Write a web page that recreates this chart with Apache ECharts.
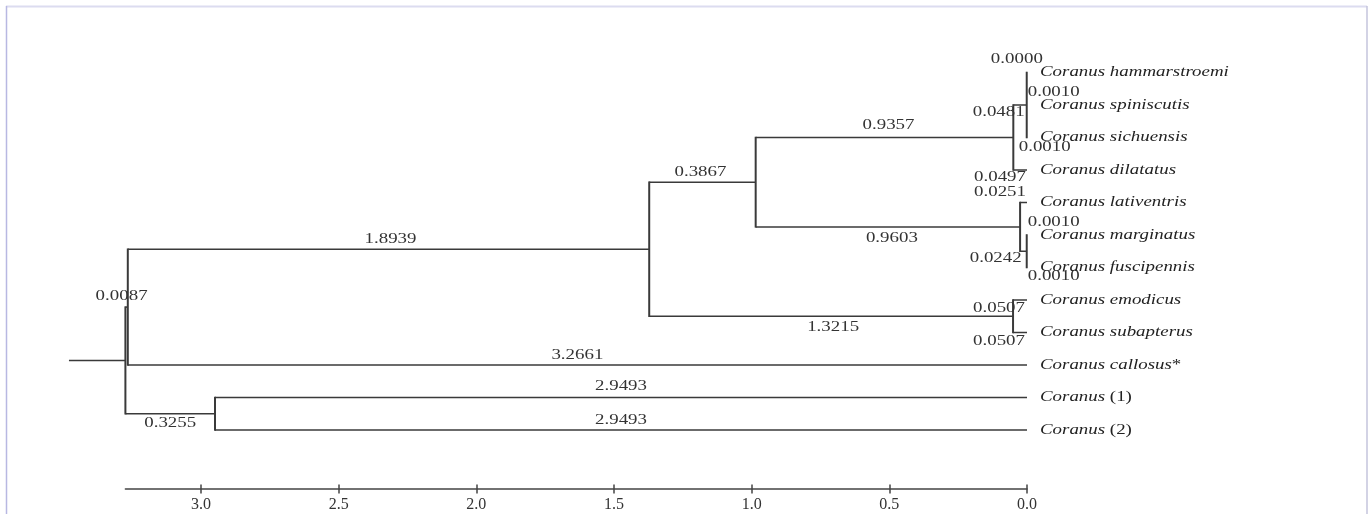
<!DOCTYPE html>
<html><head><meta charset="utf-8">
<script src="https://cdn.jsdelivr.net/npm/echarts@6/dist/echarts.min.js"></script>
<style>html,body{margin:0;padding:0;background:#fff}#c{width:1370px;height:514px}</style>
</head><body><div id="c"></div>
<script>
// ---------------- data ----------------
const taxa = ['Coranus hammarstroemi','Coranus spiniscutis','Coranus sichuensis','Coranus dilatatus',
  'Coranus lativentris','Coranus marginatus','Coranus fuscipennis','Coranus emodicus',
  'Coranus subapterus','Coranus callosus*','Coranus (1)','Coranus (2)'];
const nodeIds = ['G','F','I','H','D','E','C','A','B','R'];
const nodeHeights = [0.0010,0.0497,0.0010,0.0251,0.9855,0.0507,1.3722,3.2661,2.9493,3.2748];
const nodeChildren = [[0,1,2],['G',3],[5,6],[4,'I'],['F','H'],[7,8],['D','E'],['C',9],[10,11],['A','B']];
const branchLabelText = ['0.0000','0.0010','0.0010','0.0481','0.0497','0.0251','0.0010','0.0010','0.0242',
  '0.0507','0.0507','0.9357','0.9603','0.3867','1.3215','1.8939','3.2661','2.9493','2.9493','0.3255','0.0087'];
const branchLabelTarget = [0,1,2,'G',3,4,5,6,'I',7,8,'F','H','D','E','C',9,10,11,'B','A'];
const tickValues = [0, 0.5, 1.0, 1.5, 2.0, 2.5, 3.0];
const rootStem = 0.205;
const axisMax = 3.2748;

// ---------------- styling / placement ----------------
const labelPlace = [['mid',-10,-13],['start',1,-13],['start',-8,10],['end',-2,7],['end',-1,7],['end',-1,-10],
  ['start',1,-13],['start',1,9],['end',-5,7],['end',-2,8],['end',-2,9],['mid',4,-12],['mid',4,11],
  ['mid',-2,-10],['mid',2,11],['mid',2,-10],['mid',0,-10],['mid',0,-11],['mid',0,-10],['mid',0,10],['mid',-5,-11]];
const STRETCH = 1.35;
const LINE = '#3a3a3a';
const SERIF = '"Liberation Serif","Times New Roman",serif';

// ---------------- layout from data ----------------
const height = {}, row = {}, parentOf = {};
taxa.forEach((t,i)=>{ height[i]=0; row[i]=i; });
nodeIds.forEach((id,k)=>{ height[id]=nodeHeights[k]; nodeChildren[k].forEach(c=>parentOf[c]=id); });
nodeIds.forEach((id,k)=>{ const ch=nodeChildren[k]; row[id]=(row[ch[0]]+row[ch[ch.length-1]])/2; });

const hData = [], vData = [];
nodeIds.forEach((id,k)=>{
  const ch = nodeChildren[k];
  vData.push([height[id], row[ch[0]], row[ch[ch.length-1]]]);
  ch.forEach(c=>hData.push([height[id], height[c], row[c]]));
});
hData.push([height['R']+rootStem, height['R'], row['R']]);

const lblData = branchLabelText.map((t,i)=>{
  const c = branchLabelTarget[i], p = parentOf[c];
  return [height[p], height[c], row[c], i];
});
const tipData = taxa.map((t,i)=>[0, i, i]);

function richName(n){
  let m = n.match(/^(.*?) (\(.*\))$/);
  if (m) return '{i|'+m[1]+'} {n|'+m[2]+'}';
  m = n.match(/^(.*?)(\*)$/);
  if (m) return '{i|'+m[1]+'}{n|'+m[2]+'}';
  return '{i|'+n+'}';
}

const chart = echarts.init(document.getElementById('c'), null, {renderer:'canvas'});
const gridRect = {left:125.4, width:901.6, top:40, height:448.5};
chart.setOption({
  animation:false,
  backgroundColor:'#fff',
  grid:[Object.assign({},gridRect), Object.assign({},gridRect)],
  xAxis:[
    {type:'value', inverse:true, min:0, max:axisMax, interval:0.5, splitLine:{show:false},
      gridIndex:0, position:'bottom',
      axisLine:{show:true, onZero:false, lineStyle:{color:'#444', width:1.6}},
      axisTick:{show:true, inside:false, length:5, customValues:tickValues, lineStyle:{color:'#444', width:1.5}},
      axisLabel:{show:true, margin:8, color:'#333', fontSize:16, fontFamily:SERIF,
        customValues:tickValues, formatter:v=>Number(v).toFixed(1)}},
    {type:'value', inverse:true, min:0, max:axisMax, interval:0.5, splitLine:{show:false},
      gridIndex:1, position:'bottom',
      axisLine:{show:false, onZero:false}, axisLabel:{show:false},
      axisTick:{show:true, inside:true, length:4, customValues:tickValues, lineStyle:{color:'#444', width:1.5}}}
  ],
  yAxis:[
    {type:'value', gridIndex:0, inverse:true, min:-1, max:12.8, show:false},
    {type:'value', gridIndex:1, inverse:true, min:-1, max:12.8, show:false}
  ],
  graphic:[
    {type:'line', silent:true, shape:{x1:6, y1:6.5, x2:1367, y2:6.5}, style:{stroke:'#dcdcf0', lineWidth:2}},
    {type:'line', silent:true, shape:{x1:6.5, y1:6, x2:6.5, y2:514}, style:{stroke:'#b8b8e2', lineWidth:1.5}},
    {type:'line', silent:true, shape:{x1:1367, y1:6, x2:1367, y2:514}, style:{stroke:'#c4c4dc', lineWidth:1.5}}
  ],
  series:[
    {type:'custom', name:'branches', xAxisIndex:0, yAxisIndex:0, clip:false, silent:true,
      data:hData, encode:{x:[0,1], y:2},
      renderItem:(params, api)=>{
        const a = api.coord([api.value(0), api.value(2)]);
        const b = api.coord([api.value(1), api.value(2)]);
        return {type:'line', shape:{x1:a[0], y1:a[1], x2:b[0], y2:b[1]}, style:{stroke:LINE, lineWidth:1.5}};
      }},
    {type:'custom', name:'nodes', xAxisIndex:0, yAxisIndex:0, clip:false, silent:true,
      data:vData, encode:{x:0, y:[1,2]},
      renderItem:(params, api)=>{
        const a = api.coord([api.value(0), api.value(1)]);
        const b = api.coord([api.value(0), api.value(2)]);
        return {type:'line', shape:{x1:a[0], y1:a[1]-0.75, x2:b[0], y2:b[1]+0.75}, style:{stroke:LINE, lineWidth:2}};
      }},
    {type:'custom', name:'branchLabels', xAxisIndex:0, yAxisIndex:0, clip:false, silent:true,
      data:lblData, encode:{x:[0,1], y:2},
      renderItem:(params, api)=>{
        const i = api.value(3);
        const p = api.coord([api.value(0), api.value(2)]);
        const c = api.coord([api.value(1), api.value(2)]);
        const pl = labelPlace[i];
        let x, align;
        if (pl[0]==='mid'){ x=(p[0]+c[0])/2; align='center'; }
        else if (pl[0]==='start'){ x=p[0]; align='left'; }
        else { x=c[0]; align='right'; }
        return {type:'text', x:x+pl[1], y:c[1]+pl[2], scaleX:STRETCH, scaleY:1,
          style:{text:branchLabelText[i], fill:'#333', fontSize:14, fontFamily:SERIF,
            align:align, verticalAlign:'middle'}};
      }},
    {type:'custom', name:'taxa', xAxisIndex:0, yAxisIndex:0, clip:false, silent:true,
      data:tipData, encode:{x:0, y:1},
      renderItem:(params, api)=>{
        const i = api.value(2);
        const p = api.coord([api.value(0), api.value(1)]);
        return {type:'text', x:p[0]+13, y:p[1], scaleX:STRETCH, scaleY:1,
          style:{text:richName(taxa[i]), fill:'#222', fontSize:14, fontFamily:SERIF,
            align:'left', verticalAlign:'middle',
            rich:{i:{fontStyle:'italic', fontSize:14, fontFamily:SERIF, fill:'#222'},
                  n:{fontStyle:'normal', fontSize:14, fontFamily:SERIF, fill:'#222'}}}};
      }}
  ]
});
</script></body></html>
